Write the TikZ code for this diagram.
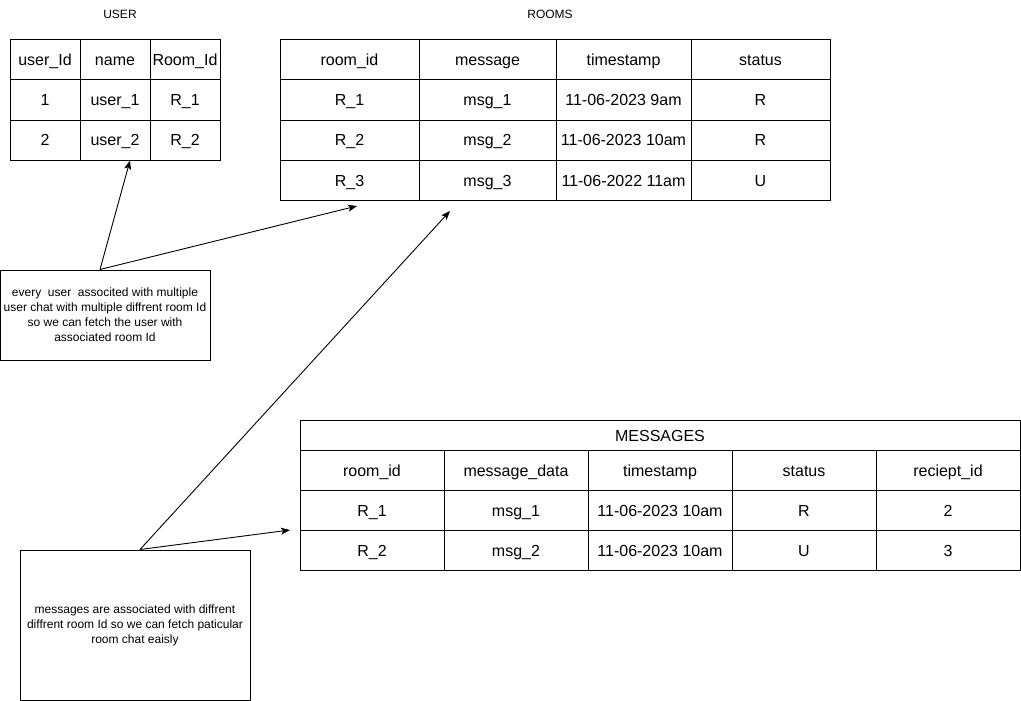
\documentclass[tikz,border=0pt]{standalone}
\usepackage{fontspec}
\setmainfont{Liberation Sans}
\usetikzlibrary{arrows.meta,calc}
\begin{document}
\begin{tikzpicture}[x=1pt,y=-1pt,line width=1pt,
  cell/.style={draw,inner sep=0pt,minimum height=40pt,text height=12pt,text depth=0pt,font=\fontsize{16}{19}\selectfont},
  ucell/.style={cell,minimum width=70pt},
  note/.style={draw,inner sep=0pt,align=center,font=\fontsize{12}{15}\selectfont},
  caption/.style={font=\fontsize{12}{15}\selectfont},
  link/.style={-{Stealth[length=9pt,width=7pt,inset=2pt]},line width=0.9pt}]
\useasboundingbox (0,0) rectangle (1021,701);

% USER table
\node[caption] (usertitle) at (120,14) {USER};
\node[ucell] (u11) at (45,60) {user\_Id};
\node[ucell] (u12) at (115,60) {name};
\node[ucell] (u13) at (185,60) {Room\_Id};
\node[ucell] (u21) at (45,100) {1};
\node[ucell] (u22) at (115,100) {user\_1};
\node[ucell] (u23) at (185,100) {R\_1};
\node[ucell] (u31) at (45,140) {2};
\node[ucell] (u32) at (115,140) {user\_2};
\node[ucell] (u33) at (185,140) {R\_2};

% ROOMS table
\node[caption] (roomstitle) at (550,14) {ROOMS};
\foreach \r/\y/\a/\b/\c/\d in {1/60/room\_id/message/timestamp/status,
                                2/100/R\_1/msg\_1/11-06-2023 9am/R,
                                3/140/R\_2/msg\_2/11-06-2023 10am/R,
                                4/180/R\_3/msg\_3/11-06-2022 11am/U}{
  \node[cell,minimum width=139pt] (r\r1) at (349.5,\y) {\a};
  \node[cell,minimum width=137pt] (r\r2) at (487.5,\y) {\b};
  \node[cell,minimum width=135pt] (r\r3) at (623.5,\y) {\c};
  \node[cell,minimum width=139pt] (r\r4) at (760.5,\y) {\d};
}

% MESSAGES table
\node[cell,minimum width=720pt,minimum height=30pt] (msgtitle) at (660,435) {MESSAGES};
\foreach \r/\y/\a/\b/\c/\d/\e in {1/470/room\_id/message\_data/timestamp/status/reciept\_id,
                                   2/510/R\_1/msg\_1/11-06-2023 10am/R/2,
                                   3/550/R\_2/msg\_2/11-06-2023 10am/U/3}{
  \node[cell,minimum width=144pt] (m\r1) at (372,\y) {\a};
  \node[cell,minimum width=144pt] (m\r2) at (516,\y) {\b};
  \node[cell,minimum width=144pt] (m\r3) at (660,\y) {\c};
  \node[cell,minimum width=144pt] (m\r4) at (804,\y) {\d};
  \node[cell,minimum width=144pt] (m\r5) at (948,\y) {\e};
}

% notes
\node[note,minimum width=210pt,minimum height=90pt] (note1) at (105,315)
  {every~ user~ associted with multiple\\user chat with multiple diffrent room Id\\so we can fetch the user with\\associated room Id};
\node[note,minimum width=230pt,minimum height=150pt] (note2) at (135,625)
  {messages are associated with diffrent\\diffrent room Id so we can fetch paticular\\room chat eaisly};

% connector ends
\coordinate (src1) at ($(note1.north)+(-5,0)$);
\coordinate (src2) at ($(note2.north)+(5,0)$);
\coordinate (userend) at ($(u32.south)+(15,0)$);
\coordinate (roomend1) at (357,206);
\coordinate (roomend2) at (450,211);
\coordinate (msgend) at (290,530);

\draw[link] (src1) -- (userend);
\draw[link] (src1) -- (roomend1);
\draw[link] (src2) -- (roomend2);
\draw[link] (src2) -- (msgend);
\end{tikzpicture}
\end{document}
